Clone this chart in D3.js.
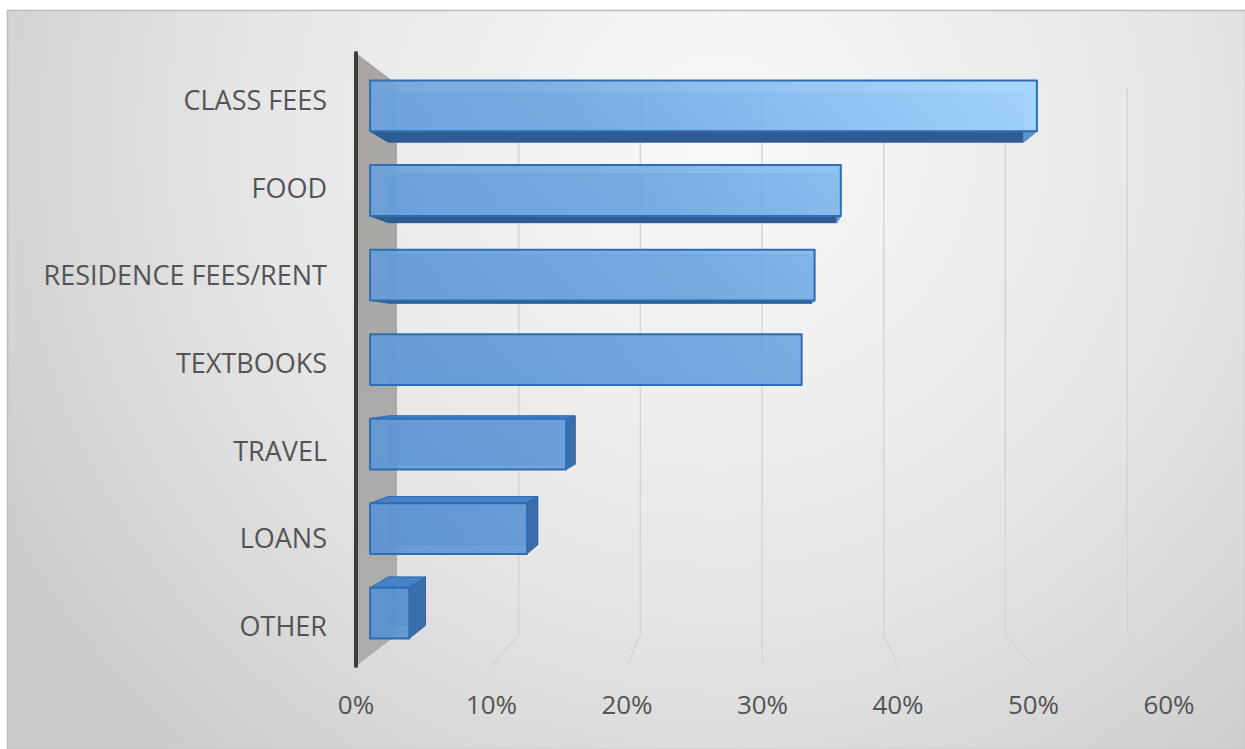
<!DOCTYPE html>
<html>
<head>
<meta charset="utf-8">
<script src="https://cdn.jsdelivr.net/npm/d3@7"></script>
<style>
	html, body { margin: 0; padding: 0; background: #ffffff; }
	.label { font-family: "Open Sans", sans-serif; fill: #545454; }
</style>
</head>
<body>
<div class="chart"></div>
<script>
var outerW = 1245,
	outerH = 749;

// Data
var categories = ["CLASS FEES", "FOOD", "RESIDENCE FEES/RENT", "TEXTBOOKS", "TRAVEL", "LOANS", "OTHER"];
var values = [0.51, 0.36, 0.34, 0.33, 0.15, 0.12, 0.03];
var tickValues = [0, 0.1, 0.2, 0.3, 0.4, 0.5, 0.6];

var svg = d3.select(".chart")
	.append("svg")
	.attr("width", outerW)
	.attr("height", outerH);

// Front plane scales
var x = d3.scaleLinear().domain([0, 0.6]).range([356, 1169]);
var y = d3.scaleBand().domain(categories).range([53, 666])
	.paddingInner(0.4).paddingOuter(0.2);

// Perspective: vanishing point + depth shrink
var Vx = 758, Vy = 360, k = 0.898;
var z0 = 0.343, z1 = 0.784;

function proj(xf, yf, z) {
	var s = 1 - z * (1 - k);
	return [Vx + s * (xf - Vx), Vy + s * (yf - Vy)];
}

function poly(pts) {
	return pts.map(function(p) { return p[0].toFixed(1) + "," + p[1].toFixed(1); }).join(" ");
}

var defs = svg.append("defs");

var bg = defs.append("radialGradient")
	.attr("id", "bg")
	.attr("gradientUnits", "userSpaceOnUse")
	.attr("cx", 720).attr("cy", 140).attr("r", 840);
bg.append("stop").attr("offset", "0%").attr("stop-color", "#f9f9f9");
bg.append("stop").attr("offset", "55%").attr("stop-color", "#e6e6e6");
bg.append("stop").attr("offset", "100%").attr("stop-color", "#cbcbcb");

var barGrad = defs.append("linearGradient")
	.attr("id", "barGrad")
	.attr("gradientUnits", "userSpaceOnUse")
	.attr("x1", 370).attr("y1", 640)
	.attr("x2", 1040).attr("y2", 80);
barGrad.append("stop").attr("offset", "0%").attr("stop-color", "#5690d0");
barGrad.append("stop").attr("offset", "55%").attr("stop-color", "#72a9e2");
barGrad.append("stop").attr("offset", "100%").attr("stop-color", "#a4d8ff");

var wallGrad = defs.append("linearGradient")
	.attr("id", "wallGrad")
	.attr("x1", 0).attr("y1", 0).attr("x2", 0).attr("y2", 1);
wallGrad.append("stop").attr("offset", "0%").attr("stop-color", "#a8a5a1");
wallGrad.append("stop").attr("offset", "100%").attr("stop-color", "#adadad");

// Background frame
svg.append("rect")
	.attr("x", 7.5).attr("y", 10.5)
	.attr("width", outerW - 7).attr("height", outerH - 10)
	.attr("fill", "url(#bg)")
	.attr("stroke", "#bcbcbc")
	.attr("stroke-width", 1.5);

// Gridlines on back wall + floor
var yTop = y.range()[0], yBot = y.range()[1];
tickValues.slice(1).forEach(function(v) {
	var a = proj(x(v), yTop, 1), b = proj(x(v), yBot, 1), c = proj(x(v), yBot, 0);
	svg.append("path")
		.attr("d", "M" + a[0] + "," + (a[1] + 3) + "L" + b[0] + "," + b[1] + "L" + c[0] + "," + c[1])
		.attr("fill", "none")
		.attr("stroke", "#d4d4d4")
		.attr("stroke-width", 1.5);
});

// Side wall at 0%
svg.append("polygon")
	.attr("points", poly([proj(x(0), yTop, 0), proj(x(0), yTop, 1), proj(x(0), yBot, 1), proj(x(0), yBot, 0)]))
	.attr("fill", "url(#wallGrad)");

svg.append("line")
	.attr("x1", x(0)).attr("x2", x(0))
	.attr("y1", yTop).attr("y2", yBot)
	.attr("stroke", "#3d3d3d")
	.attr("stroke-width", 4)
	.attr("stroke-linecap", "round");

// Bars as perspective boxes
categories.forEach(function(cat, i) {
	var xl = x(0), xr = x(values[i]);
	var yt = y(cat), yb = y(cat) + y.bandwidth();
	var g = svg.append("g").attr("class", "bar");

	function P(xx, yy, zz) { return proj(xx, yy, zz); }

	var back = [P(xl, yt, z1), P(xr, yt, z1), P(xr, yb, z1), P(xl, yb, z1)];
	var front = [P(xl, yt, z0), P(xr, yt, z0), P(xr, yb, z0), P(xl, yb, z0)];
	var top = [P(xl, yt, z0), P(xr, yt, z0), P(xr, yt, z1), P(xl, yt, z1)];
	var bottom = [P(xl, yb, z0), P(xr, yb, z0), P(xr, yb, z1), P(xl, yb, z1)];
	var right = [P(xr, yt, z0), P(xr, yt, z1), P(xr, yb, z1), P(xr, yb, z0)];

	// hidden faces first (seen through the glassy fill)
	g.append("polygon").attr("points", poly(back))
		.attr("fill", "#4f88c8").attr("fill-opacity", 0.6)
		.attr("stroke", "#3f7bbd").attr("stroke-width", 1);

	if (yb < Vy) {
		g.append("polygon").attr("points", poly(bottom))
			.attr("fill", "#2e5d93").attr("stroke", "#2a5a90").attr("stroke-width", 1);
	}
	if (yt > Vy) {
		g.append("polygon").attr("points", poly(top))
			.attr("fill", "#4682c8").attr("stroke", "#2f6cb0").attr("stroke-width", 1);
	}
	if (xr < Vx) {
		g.append("polygon").attr("points", poly(right))
			.attr("fill", "#3a6eac").attr("stroke", "#2f64a3").attr("stroke-width", 1);
	} else {
		g.append("polygon").attr("points", poly(right))
			.attr("fill", "#8cc4f4").attr("fill-opacity", 0.5)
			.attr("stroke", "#6fa9e0").attr("stroke-width", 1);
	}

	g.append("polygon").attr("points", poly(front))
		.attr("fill", "url(#barGrad)").attr("fill-opacity", 0.9)
		.attr("stroke", "#2f6db2").attr("stroke-width", 2)
		.attr("stroke-linejoin", "round");
});

// Category labels
svg.selectAll(".cat")
	.data(categories)
	.enter()
	.append("text")
	.attr("class", "label cat")
	.attr("x", 327)
	.attr("y", function(d) { return y(d) + y.bandwidth() / 2 + 3; })
	.attr("text-anchor", "end")
	.attr("dominant-baseline", "central")
	.style("font-size", "27px")
	.text(function(d) { return d; });

// Value axis labels
svg.selectAll(".tick")
	.data(tickValues)
	.enter()
	.append("text")
	.attr("class", "label tick")
	.attr("x", function(d) { return x(d); })
	.attr("y", 714)
	.attr("text-anchor", "middle")
	.style("font-size", "26px")
	.text(d3.format(".0%"));
</script>
</body>
</html>
